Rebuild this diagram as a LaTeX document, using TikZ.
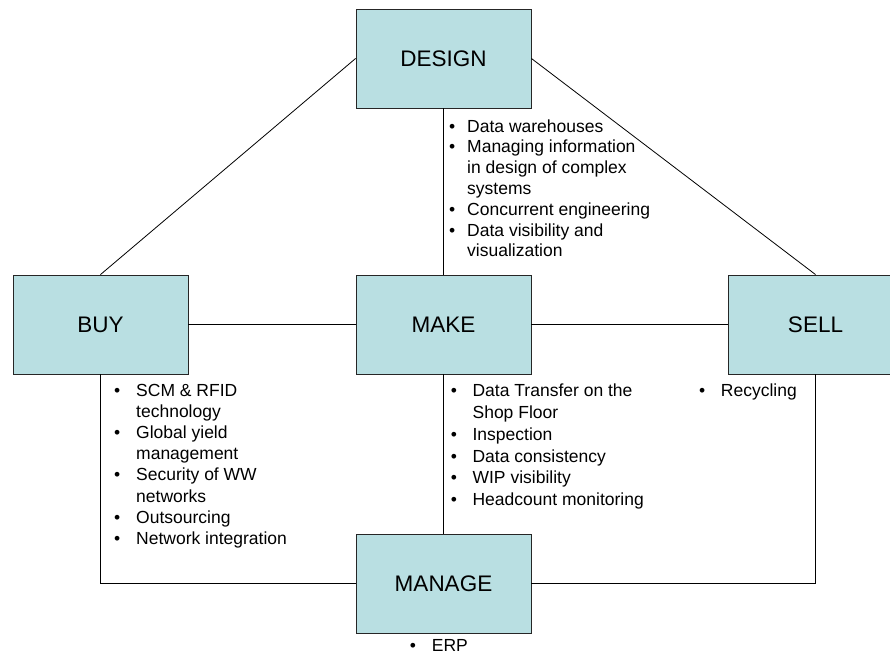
\documentclass[tikz,border=0pt]{standalone}
\usepackage{fontspec}
\setmainfont{Liberation Sans}
\definecolor{boxcyan}{RGB}{185,223,226}
\tikzset{
  area/.style={
    draw=black!85,
    line width=0.9pt,
    fill=boxcyan,
    minimum width=175pt,
    minimum height=99pt,
    inner sep=0pt,
    font=\fontsize{22.5}{27}\selectfont
  },
  link/.style={draw=black, line width=0.8pt},
  notes/.style={anchor=base west, inner sep=0pt, font=\fontsize{17.5}{#1}\selectfont},
  notes/.default=21
}
\newcommand{\bulletlist}[2]{\begin{tabular}[t]{@{}p{#1}@{}l@{}}#2\end{tabular}}

\begin{document}
\begin{tikzpicture}[x=1pt,y=-1pt]
  \useasboundingbox (0,0) rectangle (890,656);
  \clip (0,0) rectangle (890,656);

  % the five areas
  \node[area] (design) at (443.5,58.5) {DESIGN};
  \node[area] (buy)    at (100.5,324.5) {BUY};
  \node[area] (make)   at (443.5,324.5) {MAKE};
  \node[area] (sell)   at (815.5,324.5) {SELL};
  \node[area] (manage) at (443.5,583.5) {MANAGE};

  % connections
  \draw[link] (design.west) -- (buy.north);
  \draw[link] (design.east) -- (sell.north);
  \draw[link] (design) -- (make);
  \draw[link] (buy) -- (make);
  \draw[link] (make) -- (sell);
  \draw[link] (make) -- (manage);
  \draw[link] (buy.south) |- (manage.west);
  \draw[link] (sell.south) |- (manage.east);

  % topics of each area
  \node[notes=20.8] (designnotes) at (449,132) {\bulletlist{18pt}{%
    \textbullet & Data warehouses\\
    \textbullet & Managing information\\
                & in design of complex\\
                & systems\\
    \textbullet & Concurrent engineering\\
    \textbullet & Data visibility and\\
                & visualization}};
  \node[notes=21.1] (buynotes) at (114,396.5) {\bulletlist{22pt}{%
    \textbullet & SCM \& RFID\\
                & technology\\
    \textbullet & Global yield\\
                & management\\
    \textbullet & Security of WW\\
                & networks\\
    \textbullet & Outsourcing\\
    \textbullet & Network integration}};
  \node[notes=21.8] (makenotes) at (450.7,396.7) {\bulletlist{21.7pt}{%
    \textbullet & Data Transfer on the\\
                & Shop Floor\\
    \textbullet & Inspection\\
    \textbullet & Data consistency\\
    \textbullet & WIP visibility\\
    \textbullet & Headcount monitoring}};
  \node[notes] (sellnotes) at (699,396.7) {\bulletlist{21.7pt}{%
    \textbullet & Recycling}};
  \node[notes] (managenotes) at (409.7,651.7) {\bulletlist{22pt}{%
    \textbullet & ERP}};
\end{tikzpicture}
\end{document}
